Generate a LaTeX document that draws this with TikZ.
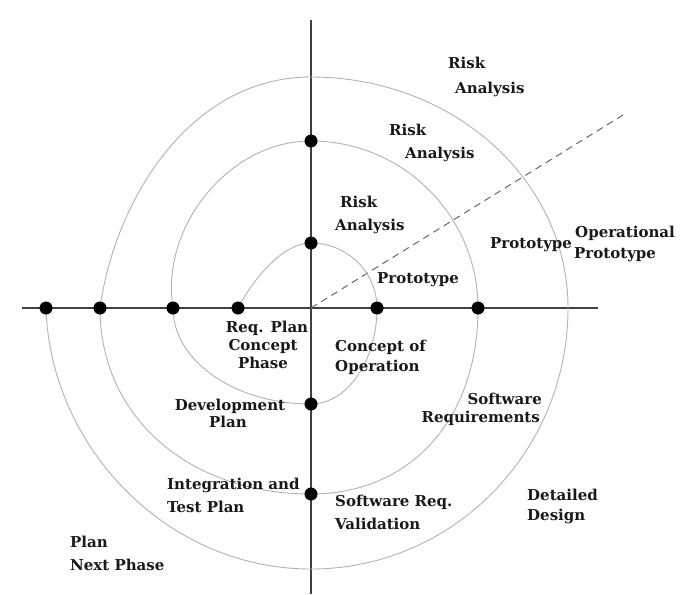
\documentclass[tikz,border=0pt]{standalone}
\usepackage{fontspec}
\setmainfont{DejaVu Serif}
\begin{document}
\begin{tikzpicture}[x=1pt,y=-1pt,
  spiral/.style={draw=black!30, line width=0.9pt},
  axis/.style={draw=black!75, line width=1.1pt},
  diag/.style={draw=black!60, line width=1pt, dash pattern=on 7pt off 5pt},
  dot/.style={circle, fill=black, inner sep=0pt, minimum size=13pt},
  lbl/.style={inner sep=0pt, font=\fontsize{15}{17}\selectfont\bfseries, text=black!90}]
\useasboundingbox (0,0) rectangle (700,594);
% axes
\coordinate (vt) at (311,20);
\coordinate (vb) at (311,594);
\coordinate (hl) at (22,308);
\coordinate (hr) at (598,308);
\coordinate (o) at (311,308);
\coordinate (de) at (623,115);
\draw[axis] (vt) -- (vb);
\draw[axis] (hl) -- (hr);
\draw[diag] (o) -- (de);
% spiral points
\coordinate (h1) at (46,308);
\coordinate (h2) at (100,308);
\coordinate (h3) at (173,308);
\coordinate (h4) at (238,308);
\coordinate (h5) at (377,308);
\coordinate (h6) at (478,308);
\coordinate (h7) at (568,308);
\coordinate (v0) at (311,77);
\coordinate (v1) at (311,141);
\coordinate (v2) at (311,243);
\coordinate (v3) at (311,404);
\coordinate (v4) at (311,494);
\coordinate (v5) at (311,569);
\draw[spiral] (h4) .. controls (250,285) and (280,243) .. (v2)
  .. controls (347,243) and (377,272) .. (h5)
  .. controls (377,361) and (347,404) .. (v3)
  .. controls (235,404) and (173,361) .. (h3)
  .. controls (160,228) and (228,141) .. (v1)
  .. controls (403,141) and (478,216) .. (h6)
  .. controls (478,420) and (410,494) .. (v4)
  .. controls (190,494) and (100,418) .. (h2)
  .. controls (115,200) and (190,77) .. (v0)
  .. controls (453,77) and (568,180) .. (h7)
  .. controls (568,452) and (453,569) .. (v5)
  .. controls (165,569) and (50,445) .. (h1);
% dots
\foreach \p in {h1,h2,h3,h4,h5,h6,v1,v2,v3,v4}
  \node[dot] (d\p) at (\p) {};
% labels
\node[lbl, anchor=base west] (ra1) at (448,68) {Risk};
\node[lbl, anchor=base west] (ra2) at (455,93) {Analysis};
\node[lbl, anchor=base west] (rb1) at (389,135) {Risk};
\node[lbl, anchor=base west] (rb2) at (405,158) {Analysis};
\node[lbl, anchor=base west] (rc1) at (340,207) {Risk};
\node[lbl, anchor=base west] (rc2) at (335,230) {Analysis};
\node[lbl, anchor=base west] (p1) at (377,283) {Prototype};
\node[lbl, anchor=base west] (p2) at (490,248) {Prototype};
\node[lbl, anchor=base west] (op1) at (575,237) {Operational};
\node[lbl, anchor=base west] (op2) at (574,258) {Prototype};
\node[lbl, anchor=base] (rq1) at (267,332) {Req. Plan};
\node[lbl, anchor=base] (rq2) at (263,350) {Concept};
\node[lbl, anchor=base] (rq3) at (263,368) {Phase};
\node[lbl, anchor=base west] (co1) at (335,351) {Concept of};
\node[lbl, anchor=base west] (co2) at (335,371) {Operation};
\node[lbl, anchor=base] (dp1) at (230,410) {Development};
\node[lbl, anchor=base] (dp2) at (228,427) {Plan};
\node[lbl, anchor=base east] (sr1) at (542,404) {Software};
\node[lbl, anchor=base east] (sr2) at (540,422) {Requirements};
\node[lbl, anchor=base west] (it1) at (167,489) {Integration and};
\node[lbl, anchor=base west] (it2) at (167,512) {Test Plan};
\node[lbl, anchor=base west] (sv1) at (335,506) {Software Req.};
\node[lbl, anchor=base west] (sv2) at (335,529) {Validation};
\node[lbl, anchor=base west] (dd1) at (527,500) {Detailed};
\node[lbl, anchor=base west] (dd2) at (527,520) {Design};
\node[lbl, anchor=base west] (pn1) at (70,547) {Plan};
\node[lbl, anchor=base west] (pn2) at (70,570) {Next Phase};
\end{tikzpicture}
\end{document}
